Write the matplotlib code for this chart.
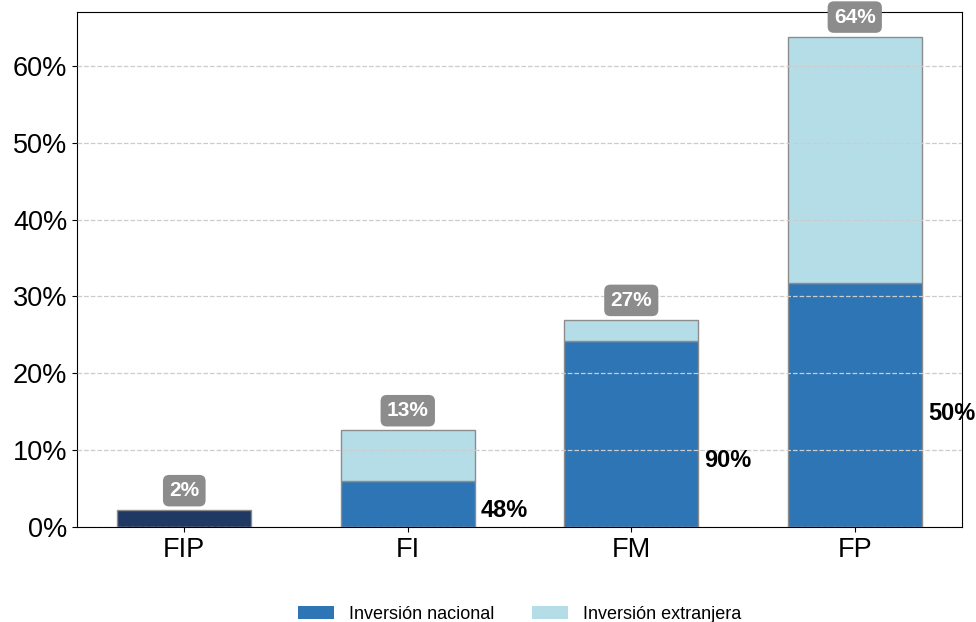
import matplotlib.pyplot as plt
import numpy as np
from matplotlib.ticker import PercentFormatter

plt.rcParams['font.family'] = ['Liberation Sans', 'DejaVu Sans']

# participación sobre el total (%)
fip_total = 2.2
fondos = ['FI', 'FM', 'FP']
nacional = [6.0, 24.2, 31.7]
extranjera = [6.6, 2.75, 32.1]
categorias = ['FIP'] + fondos

c_fip = '#1F3864'
c_nac = '#2E75B6'
c_ext = '#B5DDE7'
c_edge = '#8C8C8C'

total = [fip_total] + [n + e for n, e in zip(nacional, extranjera)]
x = np.arange(len(categorias))
ancho = 0.6

fig = plt.figure(figsize=(9.76, 6.22), dpi=100)
ax = fig.add_axes([0.0789, 0.1527, 0.9068, 0.828])

ax.bar(x[0], fip_total, ancho, color=c_fip, edgecolor=c_edge, linewidth=1)
ax.bar(x[1:], nacional, ancho, color=c_nac, edgecolor=c_edge, linewidth=1)
ax.bar(x[1:], extranjera, ancho, bottom=nacional, color=c_ext,
       edgecolor=c_edge, linewidth=1)

# total arriba de cada barra
for xi, t in zip(x, total):
    ax.annotate(f'{t:.0f}%', (xi, t), xytext=(0, 14),
                textcoords='offset points', ha='center', va='center',
                fontsize=15, fontweight='bold', color='white', zorder=5,
                bbox=dict(boxstyle='round,pad=0.3', fc='#8C8C8C', ec='none'))

# porcentaje nacional dentro de cada fondo
label_y = [2.1, 8.7, 14.8]
for xi, n, t, ly in zip(x[1:], nacional, total[1:], label_y):
    ax.text(xi + ancho / 2 + 0.028, ly, f'{n / t * 100:.0f}%', ha='left',
            va='center', fontsize=17, fontweight='bold', color='black')

ax.set_xticks(x)
ax.set_xticklabels(categorias)
ax.set_ylim(0, max(total) * 1.05)
ax.set_yticks(np.arange(0, 61, 10))
ax.yaxis.set_major_formatter(PercentFormatter(decimals=0))
ax.tick_params(labelsize=19.5)
ax.set_axisbelow(False)
ax.yaxis.grid(True, linestyle='--', color='#CCCCCC', linewidth=0.9)
for s in ax.spines.values():
    s.set_color('black')

# leyenda sin borde en los recuadros
h_nac = plt.Rectangle((0, 0), 1, 1, fc=c_nac, ec='none')
h_ext = plt.Rectangle((0, 0), 1, 1, fc=c_ext, ec='none')
ax.legend([h_nac, h_ext], ['Inversión nacional', 'Inversión extranjera'],
          loc='upper center', bbox_to_anchor=(0.5, -0.122), ncol=2,
          frameon=False, fontsize=13, handlelength=2.0, handleheight=0.75,
          handletextpad=0.8, columnspacing=2.1)

fig.savefig('out.png', dpi=100)
